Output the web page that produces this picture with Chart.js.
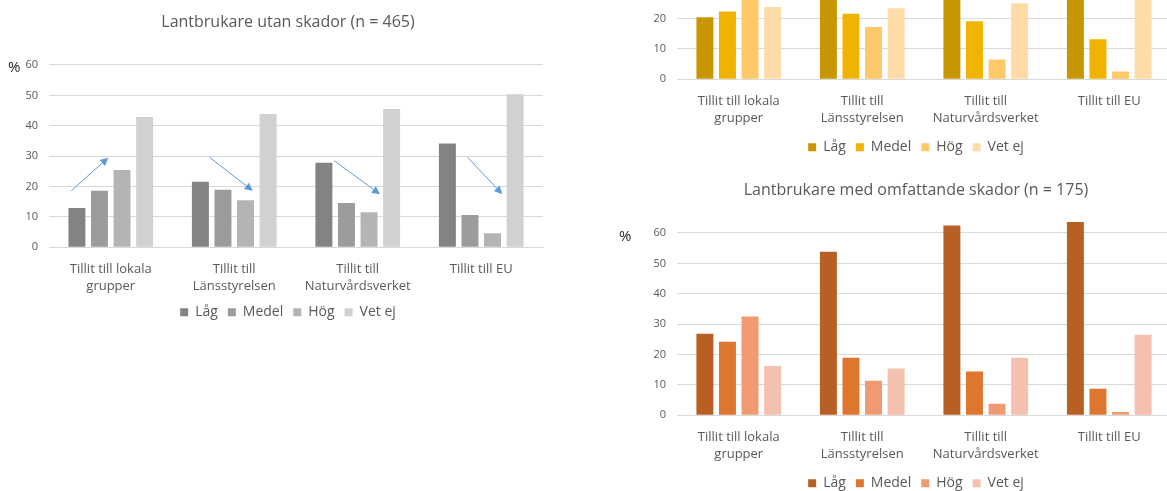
<!DOCTYPE html>
<html>
<head>
<meta charset="utf-8">
<script src="https://cdn.jsdelivr.net/npm/chart.js@4.4.1/dist/chart.umd.min.js"></script>
<style>
  html, body { margin: 0; padding: 0; background: #fff; }
  body { width: 1167px; height: 491px; position: relative; overflow: hidden; }
  canvas { position: absolute; }
  .pct { position: absolute; font: 15px "Open Sans", sans-serif; color: #262626; }
</style>
</head>
<body>
<canvas id="utan" width="576" height="340" style="left:0px;top:0px"></canvas>
<canvas id="skador" width="576" height="343" style="left:628px;top:-168px"></canvas>
<canvas id="omfattande" width="576" height="343" style="left:628px;top:168px"></canvas>
<div class="pct" style="left:8px;top:56px">%</div>
<div class="pct" style="left:619px;top:225px">%</div>
<script>
// categories and series names
var categories = [
  ['Tillit till lokala', 'grupper'],
  ['Tillit till', 'Länsstyrelsen'],
  ['Tillit till', 'Naturvårdsverket'],
  ['Tillit till EU']
];
var seriesNames = ['Låg', 'Medel', 'Hög', 'Vet ej'];

// Lantbrukare utan skador (n = 465), procent
var utanLag   = [12.9, 21.6, 27.8, 34.2];
var utanMedel = [18.6, 18.9, 14.6, 10.6];
var utanHog   = [25.4, 15.5, 11.5, 4.6];
var utanVetEj = [42.9, 43.9, 45.5, 50.4];

// lantbrukare med skador (diagrammet ovan till höger)
var skadorLag   = [20.4, 37.8, 49.4, 51.5];
var skadorMedel = [22.3, 21.6, 19.1, 13.2];
var skadorHog   = [33.5, 17.2, 6.5, 2.6];
var skadorVetEj = [23.8, 23.4, 25.0, 32.7];

// Lantbrukare med omfattande skador (n = 175), procent
var omfLag   = [26.8, 53.8, 62.5, 63.6];
var omfMedel = [24.2, 18.9, 14.4, 8.7];
var omfHog   = [32.5, 11.4, 3.8, 1.1];
var omfVetEj = [16.2, 15.4, 18.9, 26.5];

var yTicks = [0, 10, 20, 30, 40, 50, 60];

// pilar i diagrammet utan skador: [kategori, värde] från -> till
var arrowFrom = [[-0.32, 18.6], [0.80, 29.6], [1.81, 28.5], [2.89, 29.6]];
var arrowTo   = [[-0.02, 29.5], [1.15, 18.6], [2.18, 17.5], [3.17, 17.5]];

var grays   = ['#838383', '#9c9c9c', '#b4b4b4', '#d1d1d1'];
var golds   = ['#c89600', '#f0b400', '#ffc869', '#ffdba8'];
var oranges = ['#b86023', '#df7630', '#ef9a70', '#f5c1af'];

var FONT = '"Open Sans", sans-serif';
var TXT = '#595959';

var arrowPlugin = {
  id: 'arrows',
  afterDatasetsDraw: function (chart, args, opts) {
    if (!opts.from) return;
    var ctx = chart.ctx, xs = chart.scales.x, ys = chart.scales.y;
    ctx.save();
    ctx.strokeStyle = '#5b9bd5';
    ctx.fillStyle = '#5b9bd5';
    ctx.lineWidth = 1;
    for (var i = 0; i < opts.from.length; i++) {
      var x0 = xs.getPixelForValue(opts.from[i][0]), y0 = ys.getPixelForValue(opts.from[i][1]);
      var x1 = xs.getPixelForValue(opts.to[i][0]), y1 = ys.getPixelForValue(opts.to[i][1]);
      var a = Math.atan2(y1 - y0, x1 - x0), len = 8, w = 4;
      var bx = x1 - len * Math.cos(a), by = y1 - len * Math.sin(a);
      ctx.beginPath();
      ctx.moveTo(x0, y0);
      ctx.lineTo(bx, by);
      ctx.stroke();
      ctx.beginPath();
      ctx.moveTo(x1, y1);
      ctx.lineTo(bx + w * Math.sin(a), by - w * Math.cos(a));
      ctx.lineTo(bx - w * Math.sin(a), by + w * Math.cos(a));
      ctx.closePath();
      ctx.fill();
    }
    ctx.restore();
  }
};

// axisExtra: some more room between the category labels and the legend
function makeChart(id, title, series, colors, axisExtra, arrows) {
  var datasets = series.map(function (vals, i) {
    return {
      label: seriesNames[i],
      data: vals,
      backgroundColor: colors[i],
      borderWidth: 0,
      categoryPercentage: 0.731,
      barPercentage: 0.752
    };
  });
  return new Chart(document.getElementById(id), {
    type: 'bar',
    data: { labels: categories, datasets: datasets },
    plugins: [arrowPlugin],
    options: {
      responsive: false,
      animation: false,
      devicePixelRatio: 1,
      layout: { padding: { left: 0, right: 0, top: 0, bottom: 10.7 } },
      scales: {
        x: {
          grid: { display: false },
          border: { display: true, color: '#d9d9d9' },
          ticks: { color: TXT, padding: 5, maxRotation: 0, autoSkip: false,
                   font: { family: FONT, size: 13, lineHeight: 1.33 } },
          afterFit: function (s) { s.height = 48 + axisExtra; }
        },
        y: {
          min: 0, max: 65,
          border: { display: false },
          grid: { color: '#d9d9d9', drawTicks: false },
          afterBuildTicks: function (s) {
            s.ticks = yTicks.map(function (v) { return { value: v }; });
          },
          ticks: { color: TXT, padding: 11, font: { family: FONT, size: 11 } },
          afterFit: function (s) { s.width = 49; }
        },
        right: {
          position: 'right',
          display: true,
          grid: { display: false },
          border: { display: false },
          ticks: { display: false },
          afterFit: function (s) { s.width = 33; }
        }
      },
      plugins: {
        title: {
          display: !!title, text: title, color: TXT,
          font: { family: FONT, size: 16, weight: 'normal', lineHeight: 1.2 },
          padding: { top: 13, bottom: 17.6 }
        },
        legend: {
          position: 'bottom',
          labels: { color: TXT, boxWidth: 8, boxHeight: 8, padding: 10,
                    font: { family: FONT, size: 14 } }
        },
        tooltip: { enabled: false },
        arrows: arrows || {}
      }
    }
  });
}

makeChart('utan', 'Lantbrukare utan skador (n = 465)',
  [utanLag, utanMedel, utanHog, utanVetEj], grays, 0, { from: arrowFrom, to: arrowTo });
makeChart('skador', 'Lantbrukare med skador',
  [skadorLag, skadorMedel, skadorHog, skadorVetEj], golds, 3);
makeChart('omfattande', 'Lantbrukare med omfattande skador (n = 175)',
  [omfLag, omfMedel, omfHog, omfVetEj], oranges, 3);
</script>
</body>
</html>
